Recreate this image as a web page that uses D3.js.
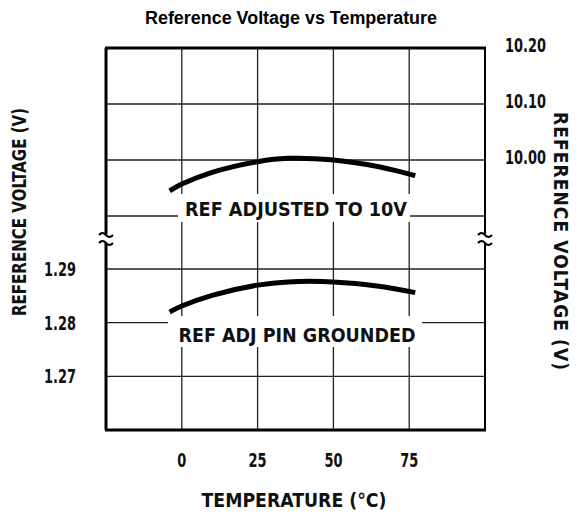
<!DOCTYPE html>
<html>
<head>
<meta charset="utf-8">
<script src="https://cdn.jsdelivr.net/npm/d3@7"></script>
<style>
  body { margin: 0; background: #fff; }
  svg { display: block; }
  .cond { font-family: "DejaVu Sans Condensed", "DejaVu Sans", sans-serif; font-weight: bold; fill: #111; }
</style>
</head>
<body>
<svg id="chart" width="582" height="514"></svg>
<script>
// temperature (°C) sampled along the curves
const temps = [-4, 0, 10, 25, 35, 50, 65, 77];
// upper curve: reference adjusted to 10V (right axis, volts)
const refAdjusted = [9.945, 9.957, 9.978, 9.997, 10.003, 10.000, 9.988, 9.972];
// lower curve: ref adj pin grounded (left axis, volts)
const refGrounded = [1.2820, 1.2831, 1.2851, 1.2870, 1.2876, 1.2876, 1.2868, 1.2856];

const xTicks = [0, 25, 50, 75];
const upperTicks = [10.20, 10.10, 10.00];
const upperGrid = [10.10, 10.00, 9.90];
const lowerTicks = [1.29, 1.28, 1.27];

(function () {
const svg = d3.select('#chart');
const m = { left: 106, right: 485, top: 48, bottom: 430 };

const x = d3.scaleLinear().domain([-25, 100]).range([m.left, m.right]);
const yUp = d3.scaleLinear().domain([9.90, 10.20]).range([216, m.top]);
const yLow = d3.scaleLinear().domain([1.26, 1.29]).range([m.bottom, 269]);

// title
svg.append('text')
  .attr('x', 291).attr('y', 24)
  .attr('text-anchor', 'middle')
  .attr('textLength', 292).attr('lengthAdjust', 'spacingAndGlyphs')
  .style('font', 'bold 17.5px "Liberation Sans", Arial, sans-serif')
  .text('Reference Voltage vs Temperature');

// grid
const grid = svg.append('g').attr('stroke', '#222').attr('stroke-width', 1.3);
grid.selectAll('.vg').data(xTicks).enter().append('line')
  .attr('x1', d => x(d)).attr('x2', d => x(d))
  .attr('y1', m.top).attr('y2', m.bottom);
grid.selectAll('.hu').data(upperGrid).enter().append('line')
  .attr('x1', m.left).attr('x2', m.right)
  .attr('y1', d => yUp(d)).attr('y2', d => yUp(d));
grid.selectAll('.hl').data(lowerTicks).enter().append('line')
  .attr('x1', m.left).attr('x2', m.right)
  .attr('y1', d => yLow(d)).attr('y2', d => yLow(d));

// white backing for curve labels
svg.append('rect').attr('x', 178).attr('y', 194).attr('width', 232).attr('height', 28).attr('fill', '#fff');
svg.append('rect').attr('x', 168).attr('y', 316).attr('width', 254).attr('height', 31).attr('fill', '#fff');

svg.append('text').attr('class', 'cond')
  .attr('x', 296).attr('y', 216).attr('text-anchor', 'middle')
  .attr('textLength', 222).attr('lengthAdjust', 'spacingAndGlyphs')
  .style('font-size', '19px')
  .text('REF ADJUSTED TO 10V');
svg.append('text').attr('class', 'cond')
  .attr('x', 297).attr('y', 342).attr('text-anchor', 'middle')
  .attr('textLength', 237).attr('lengthAdjust', 'spacingAndGlyphs')
  .style('font-size', '20px')
  .text('REF ADJ PIN GROUNDED');

// frame
const frame = svg.append('g').attr('stroke', '#000').attr('fill', 'none');
frame.append('line').attr('x1', m.left - 1).attr('x2', m.right + 1).attr('y1', m.top).attr('y2', m.top).attr('stroke-width', 3);
frame.append('line').attr('x1', m.left - 1).attr('x2', m.right + 1).attr('y1', m.bottom).attr('y2', m.bottom).attr('stroke-width', 3);
[[m.left, 3], [m.right, 2]].forEach(([ax, w]) => {
  frame.append('line').attr('x1', ax).attr('x2', ax).attr('y1', m.top).attr('y2', 234).attr('stroke-width', w);
  frame.append('line').attr('x1', ax).attr('x2', ax).attr('y1', 243).attr('y2', m.bottom).attr('stroke-width', w);
  [234, 242].forEach(by => {
    frame.append('path')
      .attr('d', `M${ax - 7},${by + 1} q3.5,-4 7,0 t7,0`)
      .attr('stroke-width', 2);
  });
});

// curves
const line = (ys) => d3.line()
  .x(d => x(d))
  .y((d, i) => ys(i))
  .curve(d3.curveCatmullRom.alpha(0.5));
svg.append('path').datum(temps)
  .attr('fill', 'none').attr('stroke', '#000').attr('stroke-width', 5)
  .attr('d', line(i => yUp(refAdjusted[i])));
svg.append('path').datum(temps)
  .attr('fill', 'none').attr('stroke', '#000').attr('stroke-width', 5)
  .attr('d', line(i => yLow(refGrounded[i])));

// narrow tall digits, like the condensed face of the original
const narrow = 0.72;

// x tick labels
svg.selectAll('.xt').data(xTicks).enter().append('text')
  .attr('class', 'cond')
  .attr('transform', d => `translate(${x(d)},467) scale(${narrow},1)`)
  .attr('text-anchor', 'middle')
  .style('font-size', '20px')
  .text(d => d);

// left tick labels
svg.selectAll('.lt').data(lowerTicks).enter().append('text')
  .attr('class', 'cond')
  .attr('transform', d => `translate(76,${yLow(d) + 7}) scale(${narrow},1)`)
  .attr('text-anchor', 'end')
  .style('font-size', '20px')
  .text(d => d.toFixed(2));

// right tick labels
svg.selectAll('.rt').data(upperTicks).enter().append('text')
  .attr('class', 'cond')
  .attr('transform', d => `translate(505,${yUp(d) + 4}) scale(${narrow},1)`)
  .style('font-size', '20px')
  .text(d => d.toFixed(2));

// axis titles
svg.append('text').attr('class', 'cond')
  .attr('transform', 'translate(26,212) rotate(-90)')
  .attr('text-anchor', 'middle')
  .attr('textLength', 208).attr('lengthAdjust', 'spacingAndGlyphs')
  .style('font-size', '19px')
  .text('REFERENCE VOLTAGE (V)');
svg.append('text').attr('class', 'cond')
  .attr('transform', 'translate(554,241) rotate(90)')
  .attr('text-anchor', 'middle')
  .attr('textLength', 258).attr('lengthAdjust', 'spacing')
  .style('font-size', '19px')
  .text('REFERENCE VOLTAGE (V)');
svg.append('text').attr('class', 'cond')
  .attr('x', 294).attr('y', 507).attr('text-anchor', 'middle')
  .attr('textLength', 185).attr('lengthAdjust', 'spacingAndGlyphs')
  .style('font-size', '20px')
  .text('TEMPERATURE (°C)');
})();
</script>
</body>
</html>
